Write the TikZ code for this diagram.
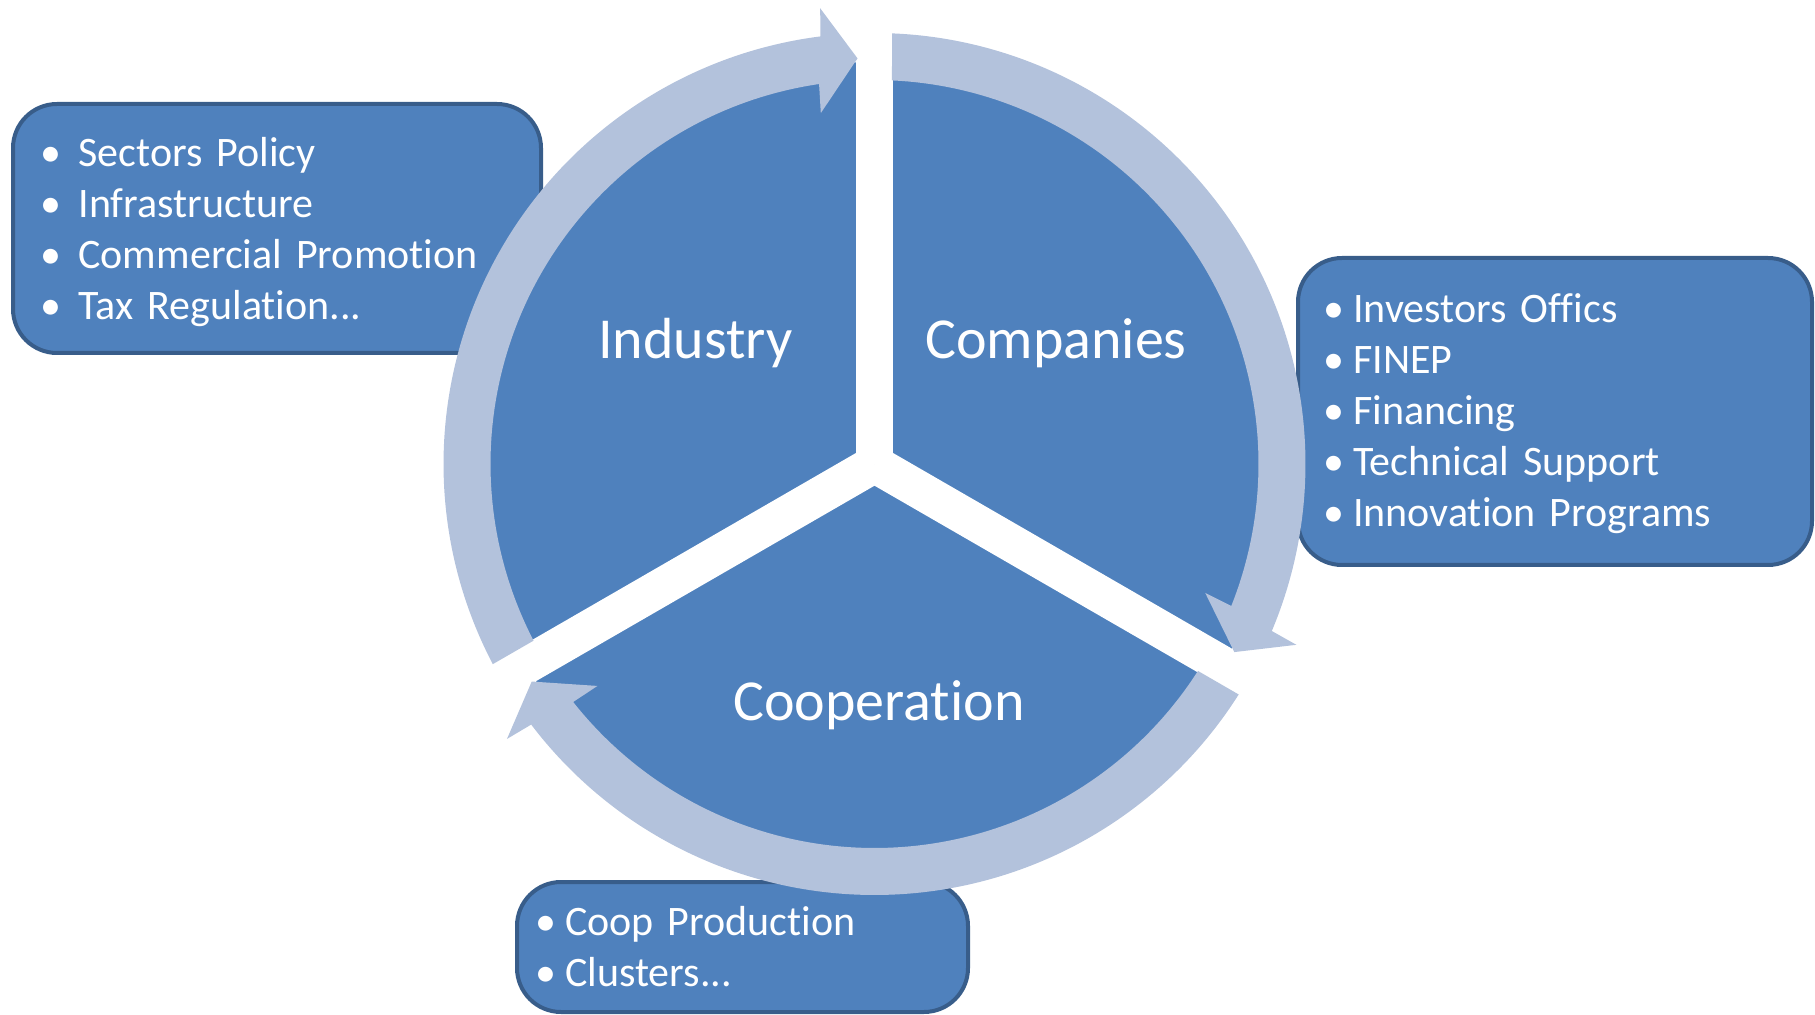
\documentclass[tikz,border=0pt]{standalone}
\usepackage{fontspec}
\setmainfont{Carlito}[Ligatures={NoCommon,NoContextual}]
\definecolor{piefill}{HTML}{4F81BD}
\definecolor{ringfill}{HTML}{B3C2DC}
\definecolor{boxline}{HTML}{385D8A}

\begin{document}
\begin{tikzpicture}[x=0.5pt,y=0.5pt,listbox/.style={draw=boxline,line width=2pt,fill=piefill,rounded corners=22pt,anchor=north west,inner ysep=0pt,text=white,align=left,font=\fontsize{21}{25.5}\selectfont},seglabel/.style={text=white,anchor=base,inner sep=0pt,font=\fontsize{29}{34}\selectfont}]
		\useasboundingbox (0,0) rectangle (1815,-1015);
		% boxes sit behind the wheel
		\node[listbox,inner xsep=13.9pt,text width=236.2pt,minimum width=264pt,minimum height=124.5pt] (policy) at (11,-102) {\rule{0pt}{18pt}\textbullet\hspace{8.4pt}Sectors Policy\\\textbullet\hspace{8.4pt}Infrastructure\\\textbullet\hspace{8.4pt}Commercial Promotion\\\textbullet\hspace{8.4pt}Tax Regulation...};
		\node[listbox,inner xsep=12.75pt,text width=231.5pt,minimum width=257pt,minimum height=153.5pt] (support) at (1296,-256) {\rule{0pt}{17pt}\textbullet\hspace{4.4pt}Investors Offics\\\textbullet\hspace{4.4pt}FINEP\\\textbullet\hspace{4.4pt}Financing\\\textbullet\hspace{4.4pt}Technical Support\\\textbullet\hspace{4.4pt}Innovation Programs};
		\node[listbox,inner xsep=9.35pt,text width=206.8pt,minimum width=225.5pt,minimum height=65pt] (coop) at (515,-880) {\textbullet\hspace{4.3pt}Coop Production\\\textbullet\hspace{4.3pt}Clusters...};
		% pie with white gaps
		\coordinate (hub) at (874.5,-464);
		\fill[piefill] (hub) circle[radius=402];
		\foreach \a in {90,210,-30}
			\draw[white,line width=18.8pt] (hub) -- ++(\a:440);
		% circular arrows
		\begin{scope}[shift={(hub)}]
			\foreach \s/\e in {210/90,90/-30,-30/-150}{
				\pgfmathsetmacro\t{\e+2.4}
				\fill[ringfill] (\s-2.33:431) arc[start angle=\s-2.33,end angle=\t+4.8,radius=431] -- (\t+4.4:459) -- (\t:406) -- (\t+6.3:355) -- (\t+5.9:384) arc[start angle=\t+5.9,end angle=\s-2.61,radius=384] -- cycle;
			}
		\end{scope}
		\node[seglabel] (industry) at (695.5,-358.3) {Industry};
		\node[seglabel] (companies) at (1056,-358.3) {Companies};
		\node[seglabel] (cooperation) at (879,-720.3) {Cooperation};
	\end{tikzpicture}
\end{document}
